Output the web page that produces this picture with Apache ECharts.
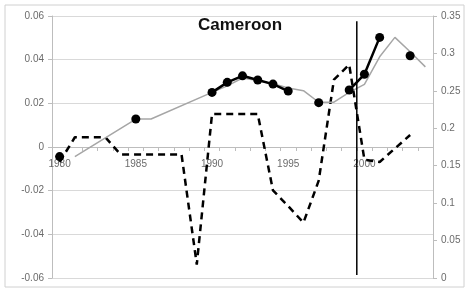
<!DOCTYPE html>
<html>
<head>
<meta charset="utf-8">
<script src="https://cdn.jsdelivr.net/npm/echarts@6/dist/echarts.min.js"></script>
<style>
  html, body { margin: 0; padding: 0; background: #fff; }
  #chart { width: 470px; height: 291px; }
</style>
</head>
<body>
<div id="chart"></div>
<script>
// years on the category axis
var years = ['1980','1981','1982','1983','1984','1985','1986','1987','1988','1989',
             '1990','1991','1992','1993','1994','1995','1996','1997','1998','1999',
             '2000','2001','2002','2003','2004'];

// black dots (left axis), gaps where no observation
var dotData = [-0.0044, null, null, null, null, 0.0128, null, null, null, null,
               0.025, 0.0296, 0.0326, 0.0307, 0.0288, 0.0256, null, 0.0203, null, 0.0261,
               0.0333, 0.0502, null, 0.0418, null];

// thin grey line (left axis), missing years are joined straight
var greyData = [null, -0.0044, null, null, null, 0.0128, 0.0128, null, null, null,
                0.025, 0.028, 0.0316, 0.0305, 0.029, 0.027, 0.0258, 0.0205, 0.0205, 0.025,
                0.0287, 0.0413, 0.0502, 0.0436, 0.0367];

// dashed line (right axis)
var dashData = [0.155, 0.188, 0.188, 0.188, 0.165, 0.165, 0.165, 0.165, 0.165, 0.018,
                0.219, 0.219, 0.219, 0.219, 0.117, 0.096, 0.074, 0.13, 0.265, 0.285,
                0.158, 0.155, 0.173, 0.191, null];

// vertical marker between 1999 and 2000 (position in category units, right axis span)
var markerLine = [[20, 0.004], [20, 0.343]];

var leftTicks = { min: -0.06, max: 0.06, step: 0.02 };
var rightTicks = { min: 0, max: 0.35, step: 0.05 };

var chart = echarts.init(document.getElementById('chart'));
var labelColor = '#6b6b6b';
var axisColor = '#bdbdbd';

var option = {
  animation: false,
  graphic: [
    {
      type: 'rect',
      shape: { x: 5, y: 5, width: 459, height: 282 },
      style: { fill: 'none', stroke: '#d0d0d0', lineWidth: 1 }
    },
    {
      type: 'text',
      x: 240, y: 25,
      style: {
        text: 'Cameroon',
        fontFamily: 'Liberation Sans',
        fontWeight: 'bold',
        fontSize: 17,
        fill: '#111',
        textAlign: 'center',
        textVerticalAlign: 'middle'
      }
    }
  ],
  // grid 0 holds the data, grid 1 only carries the year axis drawn at y = 0
  grid: [
    { left: 52, right: 37, top: 16, bottom: 13, containLabel: false },
    { left: 52, right: 37, top: 16, bottom: 144, containLabel: false }
  ],
  xAxis: [
    {
      type: 'category',
      gridIndex: 0,
      data: years,
      boundaryGap: true,
      show: false
    },
    {
      type: 'value',
      gridIndex: 0,
      min: 0, max: 25,
      show: false
    },
    {
      type: 'category',
      gridIndex: 1,
      data: years,
      boundaryGap: true,
      position: 'bottom',
      axisLine: { onZero: false, lineStyle: { color: axisColor } },
      axisTick: { show: true, interval: 0, length: 4, lineStyle: { color: axisColor } },
      axisLabel: { interval: 4, color: labelColor, fontSize: 10, fontFamily: 'Liberation Sans', margin: 12 },
      splitLine: { show: false }
    }
  ],
  yAxis: [
    {
      type: 'value',
      gridIndex: 0,
      position: 'left',
      min: leftTicks.min, max: leftTicks.max, interval: leftTicks.step,
      axisLine: { show: true, onZero: false, lineStyle: { color: axisColor } },
      axisTick: { show: true, length: 4, lineStyle: { color: axisColor } },
      axisLabel: { color: labelColor, fontSize: 10, fontFamily: 'Liberation Sans', margin: 8 },
      splitLine: { show: true, lineStyle: { color: '#d9d9d9', width: 1 } }
    },
    {
      type: 'value',
      gridIndex: 0,
      position: 'right',
      min: rightTicks.min, max: rightTicks.max, interval: rightTicks.step,
      axisLine: { show: true, onZero: false, lineStyle: { color: axisColor } },
      axisTick: { show: true, length: 4, lineStyle: { color: axisColor } },
      axisLabel: { color: labelColor, fontSize: 10, fontFamily: 'Liberation Sans', margin: 8 },
      splitLine: { show: false }
    },
    {
      type: 'value',
      gridIndex: 1,
      min: 0, max: 1,
      show: false
    }
  ],
  series: [
    {
      name: 'dashed',
      type: 'line',
      xAxisIndex: 0,
      yAxisIndex: 1,
      data: dashData,
      showSymbol: false,
      lineStyle: { color: '#000', width: 2.5, type: [7, 5] },
      z: 2
    },
    {
      name: 'grey',
      type: 'line',
      xAxisIndex: 0,
      yAxisIndex: 0,
      data: greyData,
      connectNulls: true,
      showSymbol: false,
      lineStyle: { color: '#a6a6a6', width: 1.5 },
      z: 3
    },
    {
      name: 'dots',
      type: 'line',
      xAxisIndex: 0,
      yAxisIndex: 0,
      data: dotData,
      connectNulls: false,
      showSymbol: true,
      showAllSymbol: true,
      symbol: 'circle',
      symbolSize: 9,
      itemStyle: { color: '#000' },
      lineStyle: { color: '#000', width: 2.5 },
      z: 4
    },
    {
      name: 'marker',
      type: 'line',
      xAxisIndex: 1,
      yAxisIndex: 1,
      data: markerLine,
      showSymbol: false,
      lineStyle: { color: '#000', width: 1.5 },
      z: 5
    }
  ]
};

chart.setOption(option);
window.onresize = function () {
  chart.resize();
};
</script>
</body>
</html>
